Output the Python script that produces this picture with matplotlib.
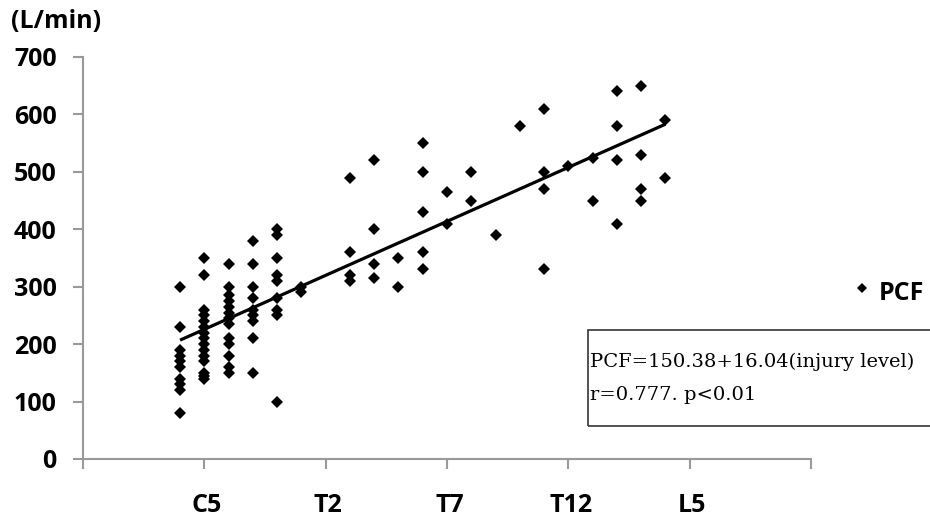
import matplotlib
matplotlib.use("Agg")
import matplotlib.pyplot as plt
import matplotlib.patches as mpatches
import matplotlib.lines as mlines

# Injury level index: C1=1 ... C8=8, T1=9 ... T12=20, L1=21 ... L5=25
level_names = ["C4", "C5", "C6", "C7", "C8", "T1", "T3", "T4", "T5", "T6", "T7",
               "T8", "T9", "T10", "T11", "T12", "L1", "L2", "L3", "L4"]
level_index = [4, 5, 6, 7, 8, 9, 11, 12, 13, 14, 15, 16, 17, 18, 19, 20, 21, 22, 23, 24]

pcf_by_level = [
    [300, 230, 190, 180, 170, 160, 140, 130, 120, 80],                          # C4
    [350, 320, 260, 250, 240, 230, 220, 210, 200, 190, 180, 170, 150, 145, 140],  # C5
    [340, 300, 285, 275, 265, 255, 245, 235, 210, 200, 180, 160, 150],           # C6
    [380, 340, 300, 280, 260, 250, 240, 210, 150],                              # C7
    [400, 390, 350, 320, 310, 280, 260, 250, 100],                              # C8
    [300, 290],                                                                 # T1
    [490, 360, 320, 310],                                                       # T3
    [520, 400, 340, 315],                                                       # T4
    [350, 300],                                                                 # T5
    [550, 500, 430, 360, 330],                                                  # T6
    [465, 410],                                                                 # T7
    [500, 450],                                                                 # T8
    [390],                                                                      # T9
    [580],                                                                      # T10
    [610, 500, 470, 330],                                                       # T11
    [510],                                                                      # T12
    [525, 450],                                                                 # L1
    [640, 580, 520, 410],                                                       # L2
    [650, 530, 470, 450],                                                       # L3
    [590, 490],                                                                 # L4
]

trend_levels = [4, 24]
trend_values = [207, 583]

xtick_pos = [5, 10, 15, 20, 25]
xtick_labels = ["C5", "T2", "T7", "T12", "L5"]
yticks = [0, 100, 200, 300, 400, 500, 600, 700]

eq_text = "PCF=150.38+16.04(injury level)"
r_text = "r=0.777. p<0.01"

xs, ys = [], []
for lv, vals in zip(level_index, pcf_by_level):
    for v in vals:
        xs.append(lv)
        ys.append(v)

W, H = 930, 522
fig = plt.figure(figsize=(W / 100, H / 100), dpi=100)
ax = fig.add_axes([83 / W, (H - 459) / H, (811 - 83) / W, (459 - 57) / H])

bold = dict(family="Open Sans", fontweight="bold", fontsize=18)

ax.plot(xs, ys, linestyle="none", marker="D", markersize=6.5, color="black",
        markeredgewidth=0, clip_on=False)
ax.plot(trend_levels, trend_values, color="black", linewidth=2.3,
        solid_capstyle="butt")

ax.set_xlim(0, 30)
ax.set_ylim(0, 700)
for s in ["top", "right"]:
    ax.spines[s].set_visible(False)
for s in ["left", "bottom"]:
    ax.spines[s].set_color("#999999")
    ax.spines[s].set_linewidth(1.5)

ax.set_yticks(yticks)
ax.set_yticklabels([str(v) for v in yticks], **bold)
ax.tick_params(axis="y", direction="out", length=7, width=1.5, color="#999999", pad=12)

ax.set_xticks(range(0, 31, 5))
ax.set_xticklabels([""] * 7)
ax.tick_params(axis="x", direction="out", length=7, width=1.5, color="#999999")
for p, lab in zip(xtick_pos, xtick_labels):
    ax.text(p + 0.1, -(505 - 459) / (459 - 57), lab, transform=ax.get_xaxis_transform(),
            ha="center", va="center", **bold)

fig.text(11 / W, 1 - 22 / H, "(L/min)", ha="left", va="center", **bold)

# legend
fig.lines.append(mlines.Line2D([862 / W], [1 - 288 / H], marker="D",
                               markersize=5, color="black",
                               markeredgewidth=0,
                               transform=fig.transFigure))
fig.text(879 / W, 1 - 294 / H, "PCF", ha="left", va="center", **bold)

# equation box
rect = mpatches.Rectangle((588 / W, 1 - 426 / H), (W + 5 - 588) / W, (426 - 330) / H,
                          transform=fig.transFigure, fill=False,
                          edgecolor="#333333", linewidth=1.2)
fig.patches.append(rect)
fig.text(590 / W, 1 - 362 / H, eq_text, ha="left", va="center",
         family="DejaVu Serif", fontsize=14)
fig.text(590 / W, 1 - 395 / H, r_text, ha="left", va="center",
         family="DejaVu Serif", fontsize=14)

fig.savefig("out.png", dpi=100)
